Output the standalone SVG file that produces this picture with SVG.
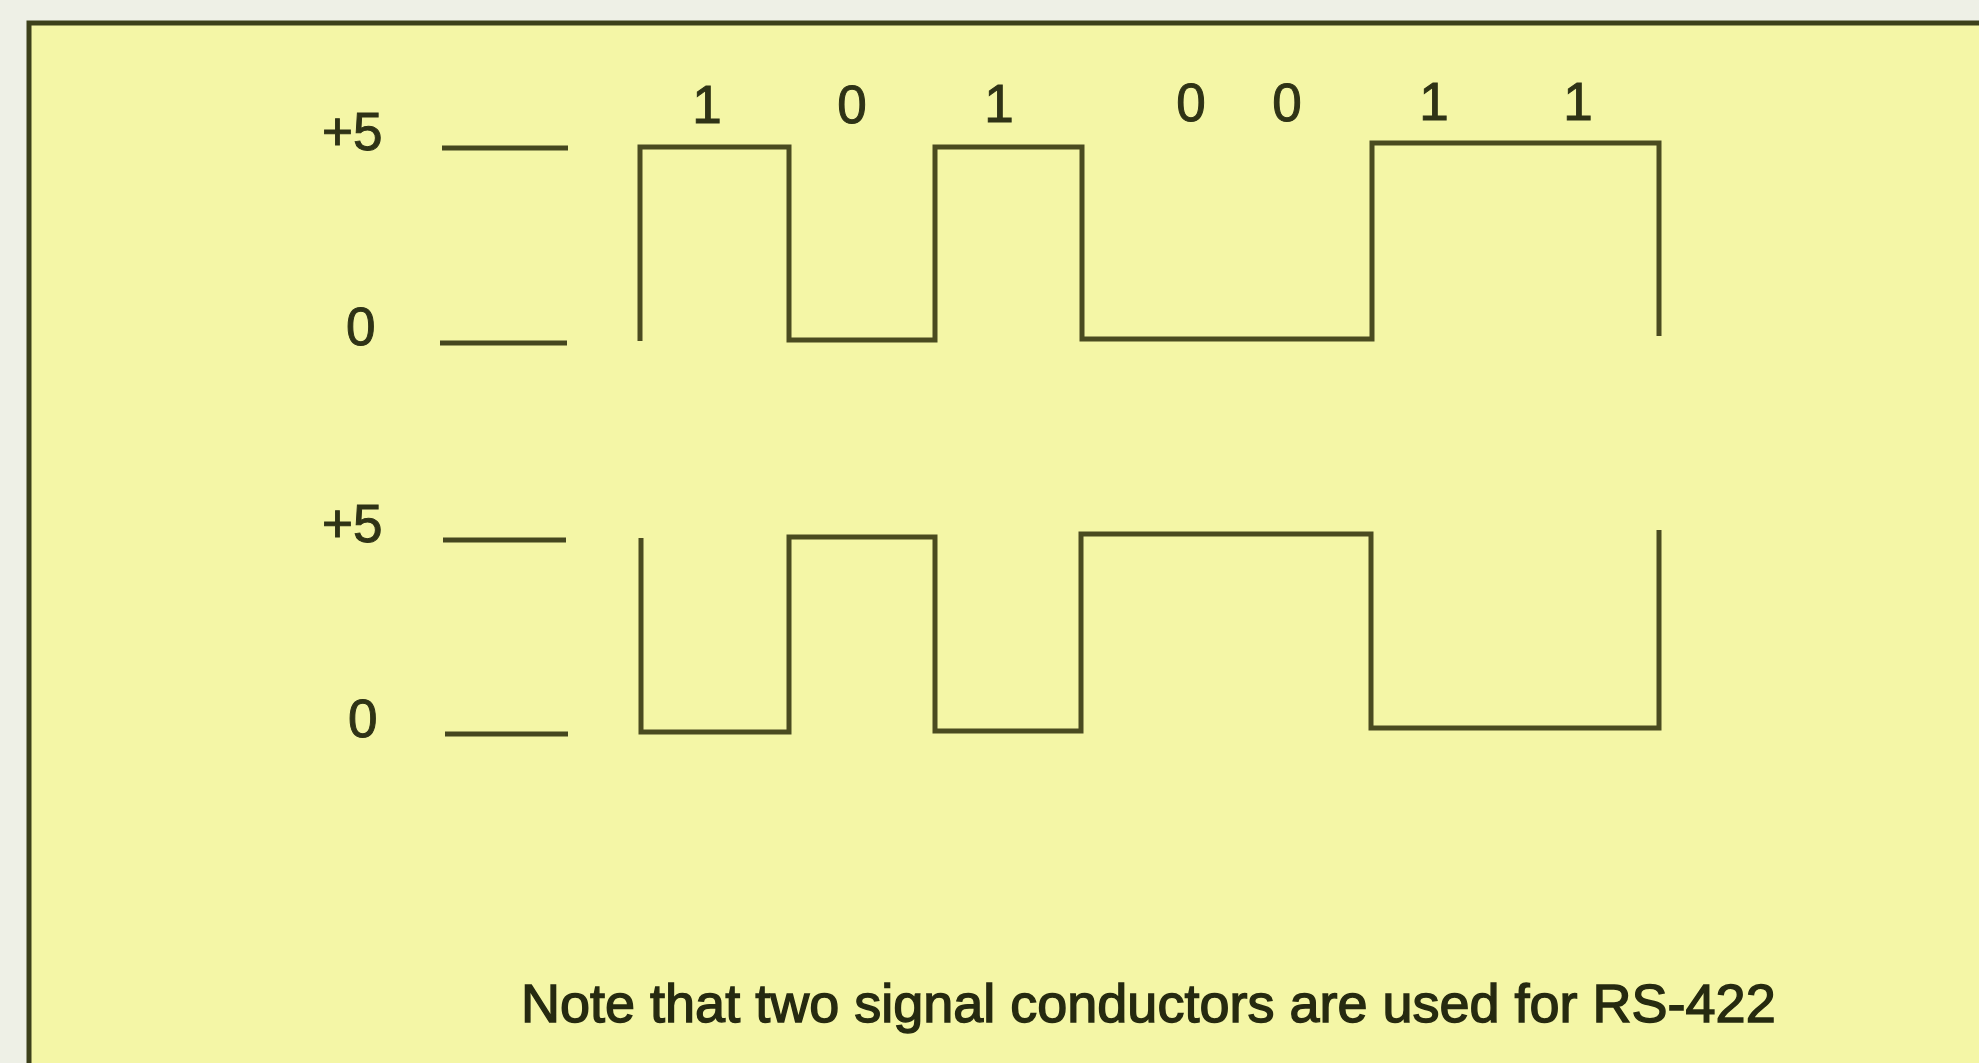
<svg xmlns="http://www.w3.org/2000/svg" width="1979" height="1063" viewBox="0 0 1979 1063">
  <style>
    .lbl { font-family: "Liberation Sans", Arial, sans-serif; font-size: 53px; fill: #2f3316; stroke: #2f3316; stroke-width: 1; }
    .note { font-family: "Liberation Sans", Arial, sans-serif; font-size: 54px; fill: #262a10; stroke: #262a10; stroke-width: 1.4; }
    .lvl { stroke: #45471f; stroke-width: 5; fill: none; }
    .wave { stroke: #4a4b20; stroke-width: 5; fill: none; stroke-linejoin: miter; }
  </style>
  <rect x="0" y="0" width="1979" height="1063" fill="#eef0e6"/>
  <g id="frame">
    <rect x="29" y="23" width="2000" height="1100" fill="#f4f6a6" stroke="#3c401a" stroke-width="5"/>
  </g>
  <g id="axis-top">
    <text class="lbl" x="322" y="150">+5</text>
    <text class="lbl" x="346" y="345">0</text>
    <line class="lvl" x1="442" y1="148" x2="568" y2="148"/>
    <line class="lvl" x1="440" y1="343" x2="567" y2="343"/>
  </g>
  <g id="axis-bottom">
    <text class="lbl" x="322" y="542">+5</text>
    <text class="lbl" x="348" y="737">0</text>
    <line class="lvl" x1="443" y1="540" x2="566" y2="540"/>
    <line class="lvl" x1="445" y1="734" x2="568" y2="734"/>
  </g>
  <g id="bits">
    <text class="lbl" x="707" y="123" text-anchor="middle">1</text>
    <text class="lbl" x="852" y="123" text-anchor="middle">0</text>
    <text class="lbl" x="999" y="122" text-anchor="middle">1</text>
    <text class="lbl" x="1191" y="121" text-anchor="middle">0</text>
    <text class="lbl" x="1287" y="121" text-anchor="middle">0</text>
    <text class="lbl" x="1434" y="120" text-anchor="middle">1</text>
    <text class="lbl" x="1578" y="120" text-anchor="middle">1</text>
  </g>
  <g id="connectors">
    <path id="signal-a" class="wave" d="M640,341 V147 H789 V340 H935 V147 H1082 V339 H1372 V143 H1659 V336"/>
    <path id="signal-b" class="wave" d="M641,538 V732 H789 V537 H935 V731 H1081 V534 H1371 V728 H1659 V530"/>
  </g>
  <g id="caption">
    <text class="note" x="521" y="1022">Note that two signal conductors are used for RS-422</text>
  </g>
</svg>
